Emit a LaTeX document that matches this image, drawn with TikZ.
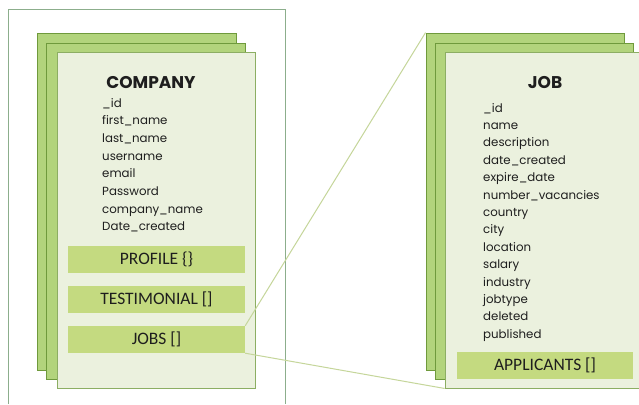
\documentclass[tikz,border=0pt]{standalone}
\usepackage{fontspec}
\setmainfont{Poppins}
\newfontfamily\boxfont{Carlito}
\definecolor{frameC}{HTML}{8CAE8C}
\definecolor{backC}{HTML}{B2D47C}
\definecolor{edgeC}{HTML}{6F9A3C}
\definecolor{frontC}{HTML}{EBF1DE}
\definecolor{boxC}{HTML}{C4DA80}
\definecolor{linkC}{HTML}{C5D69A}
\definecolor{txtC}{HTML}{1E1E1E}
\begin{document}
\begin{tikzpicture}[x=1pt,y=-1pt,
  backcard/.style={draw=edgeC,line width=0.9pt,fill=backC,inner sep=0pt,minimum width=199pt,minimum height=337pt},
  frontcard/.style={draw=edgeC!80,line width=0.9pt,fill=frontC,inner sep=0pt,minimum height=336pt},
  fieldbox/.style={fill=boxC,inner sep=0pt,minimum height=27pt,font=\boxfont\fontsize{17.5}{19}\selectfont,text=txtC},
  field/.style={anchor=base west,inner sep=0pt,font=\fontsize{11.8}{14}\selectfont,text=txtC},
  title/.style={anchor=base,inner sep=0pt,font=\bfseries\fontsize{17}{19}\selectfont,text=txtC},
  link/.style={draw=linkC,line width=1pt}]
\useasboundingbox (0,0) rectangle (639,404);
\fill[white] (0,0) rectangle (639,404);
% outer frame
\coordinate (fa) at (8,404);
\coordinate (fb) at (8,9);
\coordinate (fc) at (285,9);
\coordinate (fd) at (285,404);
\draw[frameC,line width=0.9pt] (fa) -- (fb) -- (fc) -- (fd);
% company cards
\node[backcard] (cb1) at (136.5,201.5) {};
\node[backcard,minimum height=336pt] (cb2) at (145.5,211) {};
\node[frontcard,minimum width=198pt] (cf) at (156,220) {};
\node[title] (ctitle) at (151,88) {COMPANY};
\foreach \t [count=\i from 0] in {\_id,first\_name,last\_name,username,email,Password,company\_name,Date\_created}
  \node[field] (cfield\i) at (102,107+17.7*\i) {\t};
\node[fieldbox,minimum width=177pt] (profile) at (156.5,259.5) {PROFILE \{\}};
\node[fieldbox,minimum width=177pt] (testimonial) at (156.5,299.5) {TESTIMONIAL []};
\node[fieldbox,minimum width=177pt] (jobs) at (156.5,339.5) {JOBS []};
% job cards
\node[backcard,minimum width=198pt] (jb1) at (525,201.5) {};
\node[backcard,minimum width=198pt,minimum height=336pt] (jb2) at (534,211) {};
\node[frontcard,minimum width=202pt] (jf) at (446,220) [anchor=center,xshift=100pt] {};
\node[title] (jtitle) at (545,88) {JOB};
\foreach \t [count=\i from 0] in {\_id,name,description,date\_created,expire\_date,number\_vacancies,country,city,location,salary,industry,jobtype,deleted,published}
  \node[field] (jfield\i) at (483,112+17.4*\i) {\t};
\node[fieldbox,minimum width=176pt] (applicants) at (545,365.5) {APPLICANTS []};
% connectors
\draw[link] (jobs.north east) -- (jb1.north west);
\draw[link] (jobs.south east) -- (jf.south west);
\end{tikzpicture}
\end{document}
